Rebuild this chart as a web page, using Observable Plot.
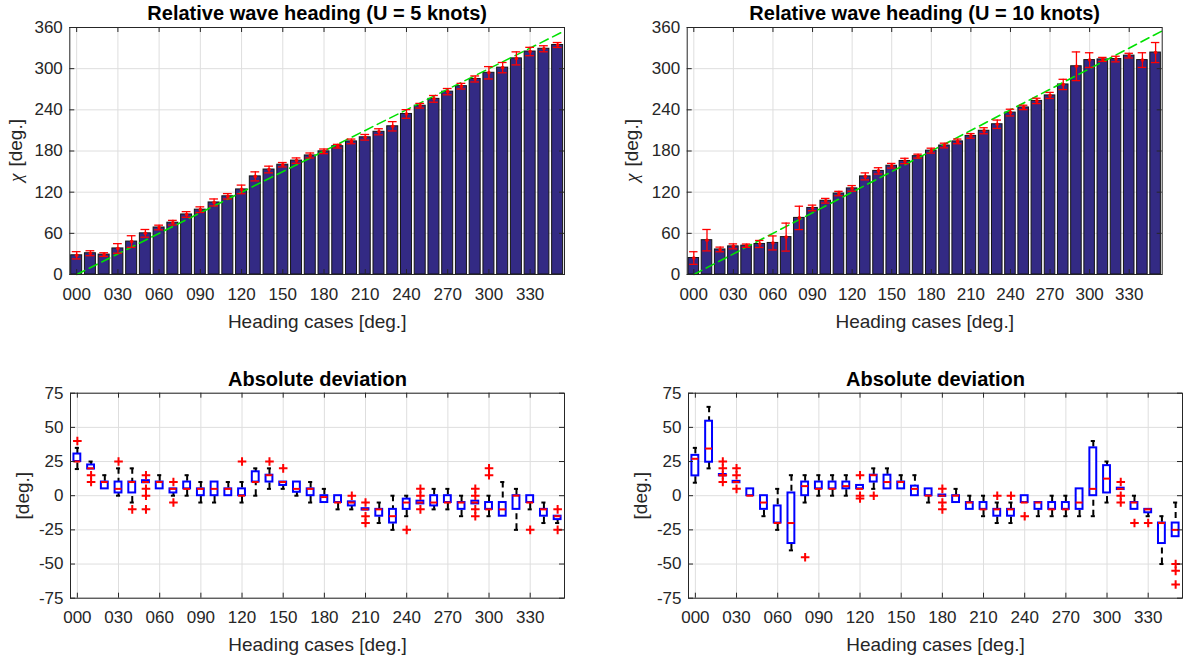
<!DOCTYPE html>
<html><head><meta charset="utf-8">
<script src="https://cdn.jsdelivr.net/npm/d3@7"></script>
<script src="https://cdn.jsdelivr.net/npm/@observablehq/plot@0.6"></script>
<style>
body{margin:0;background:#fff;}
#root{position:relative;width:1185px;height:661px;background:#fff;overflow:hidden;}
</style></head><body><div id="root"></div>
<script>
// ---------- data ----------
const headings = [0,10,20,30,40,50,60,70,80,90,100,110,120,130,140,150,160,170,180,190,200,210,220,230,240,250,260,270,280,290,300,310,320,330,340,350];
const xTicks = [0,30,60,90,120,150,180,210,240,270,300,330];
const yTicksTop = [0,60,120,180,240,300,360];
const yTicksBottom = [-75,-50,-25,0,25,50,75];
const refLineX = [0,355];
const refLineY = [0,355];

// Relative wave heading, U = 5 knots (mean and error half-width)
const u5Mean = [28,31,29,38,48,60,68.5,75.5,87.5,94.5,105,114,124,143,153,160,166,173.5,179.5,187,194,200,208,216,234,246,256,266.5,274.5,285,294,301.5,315,325,329,334.5];
const u5Err  = [5.3,3.6,2.7,7,8.5,5.6,3.4,3.4,4.1,4.1,5.1,3.9,6.3,6.6,4.9,3.2,3.9,3.6,3.4,2.7,3.4,4.1,4.4,6.8,6.3,3.4,4.9,4.6,4.1,4.4,9,7.5,9.5,6.1,4.4,3.6];
// Relative wave heading, U = 10 knots
const u10Mean = [24,50,36.5,41,42,44.5,46,54.5,82.5,97,107.5,118,125.5,143,151,158.5,165.5,172.5,180.5,188,194,202,209.5,219,236,243.5,253,261,277,303.5,312.5,313.5,314,319,312.5,323.5];
const u10Err  = [9.2,15.6,3.4,3.6,2.4,5.1,10.2,20.4,17,4.1,3.4,3.2,4.1,5.1,4.6,3.4,3.9,2.9,3.6,3.4,3.4,3.4,4.4,6.1,4.9,3.2,3.9,4.4,7.5,20.9,10.7,2.9,4.1,3.4,10.7,14.6];

// Absolute deviation box statistics, U = 5 knots
const u5Q1  = [25,19.5,5,2,2,9.5,5,2,5,0,0,0,0,10,10,7.5,2.5,0,-5,-5,-7.5,-10.5,-15,-20,-10,-6,-7.5,-5,-10,-6,-10,-15,-10,-5,-15,-17.5];
const u5Q3  = [30.5,22.5,10,10,10,11,10,5,10,5,10,5,5,17.5,15,10,10,5,0,0,-4.5,-9.5,-10,-10,-2.5,-4,0,0,-5,-4,-5,-5,0,0,-10,-15];
const u5Med = [25,20,10,5,10,10,10,5,5,5,5,5,0,10,15,10,5,5,-1,-5,-5,-10,-10,-15,-5,-5,-5,-5,-5,-5,-10,-10,0,-5,-10,-15];
const u5Lo  = [19.5,19.5,5,0,-5,9.5,5,0,0,-5,-5,0,-5,0,5,5,0,-5,-5,-10,-10,-10.5,-20,-25,-15,-6,-10,-10,-15,-6,-15,-15,-25,-10,-20,-20];
const u5Hi  = [35,25,15,20,20,11,15,5,15,10,10,10,10,20,20,10,10,10,5,0,-4.5,-9.5,-5,0,0,-4,5,5,0,-4,0,10,5,0,-5,-15];
const u5Out = [[40],[15,10],[],[25],[-10],[15,5,0,-10],[],[10,-5],[],[],[],[],[25],[],[25],[20],[],[],[],[],[0],[-5,-15,-20],[],[],[-25],[5,0,-10],[],[],[],[5,0,-10,-15],[20,15],[],[],[-25],[],[-10,-25]];

// Absolute deviation box statistics, U = 10 knots
const u10Q1  = [14.5,24.5,14.5,9.5,0,-10,-20,-35,0,5,5,5,5,10,5,5,0,0,-0.5,-5,-10,-10,-15,-15,-5,-10,-10,-10,-10,0,2,4.5,-10,-12.5,-35,-30];
const u10Q3  = [29.5,54.5,15.5,10.5,5,0,-7.5,2,10,10,10,10,7.5,15,15,10,7,5,0.5,0,-5,-5,-10,-10,0,-5,-5,-5,5,35,22,5.5,-5,-10,-20,-20];
const u10Med = [27,34.5,15,10,0,-5,-20,-20,7,5,5,7,5,15,10,10,5,0,0,0,-5,-10,-10,-10,-5,-5,-10,-10,-5,5,12.5,5,-5,-10,-20,-25];
const u10Lo  = [9.5,20,14.5,9.5,0,-15,-25,-40,-5,0,0,0,5,5,5,5,0,-5,-0.5,-5,-10,-15,-20,-20,-5,-15,-15,-15,-15,-15,-5,4.5,-10,-15,-50,-30];
const u10Hi  = [35,65,15.5,10.5,5,0,5,15,15,15,15,15,7.5,20,20,15,15,5,0.5,5,0,0,-5,-5,0,-5,0,0,5,40,25,5.5,0,-10,-15,-5];
const u10Out = [[],[],[25,20,15,10],[20,15,5],[],[],[],[],[-45],[],[],[],[15,0,-2],[0],[],[],[],[],[5,-5,-10],[],[],[],[0],[0],[-15],[],[],[],[],[],[],[10,0,-5],[-20],[-20],[],[-50,-55,-65]];

// ---------- drawing ----------
const FONT = '"Liberation Sans", Arial, Helvetica, sans-serif';
const INK = "#262626";
const root = document.getElementById("root");
const plusSymbol = {draw(ctx, size){const r = Math.sqrt(size / Math.PI); ctx.moveTo(-r,0); ctx.lineTo(r,0); ctx.moveTo(0,-r); ctx.lineTo(0,r);}};

function ylabelMarks(ylabel, dx) {
  if (ylabel.symbol) {
    return [
      Plot.text([ylabel.symbol], {text: d => d, frameAnchor: "left", dx: -dx, dy: 31, rotate: -90, textAnchor: "start", lineAnchor: "middle", fontSize: 19, fontStyle: "italic", fontFamily: '"Liberation Serif", "DejaVu Serif", serif', fill: INK}),
      Plot.text([ylabel.unit], {text: d => d, frameAnchor: "left", dx: -dx, dy: -32, rotate: -90, textAnchor: "end", lineAnchor: "middle", fontSize: 19, fill: INK})
    ];
  }
  return [Plot.text([ylabel.unit], {text: d => d, frameAnchor: "left", dx: -dx, rotate: -90, textAnchor: "middle", lineAnchor: "middle", fontSize: 19, fill: INK})];
}

function panel({left, top, width, height, fx0, fx1, fy0, fy1, yDomain, yTicks, title, ylabel, ylabelDx, marks}) {
  const frameW = fx1 - fx0, frameH = fy1 - fy0;
  const plot = Plot.plot({
    width, height,
    marginLeft: fx0 - left, marginRight: left + width - fx1,
    marginTop: fy0 - top, marginBottom: top + height - fy1,
    style: {fontFamily: FONT, fontSize: "17px", color: INK, background: "transparent", overflow: "visible"},
    x: {domain: [-5, 355], ticks: xTicks, tickSize: 0, tickPadding: 13, tickFormat: d3.format("03d"), label: null},
    y: {domain: yDomain, ticks: yTicks, tickSize: 0, tickPadding: 7, tickFormat: d => String(d), label: null},
    marks: [
      Plot.gridX(xTicks, {stroke: "#dedede", strokeOpacity: 1}),
      Plot.gridY(yTicks, {stroke: "#dedede", strokeOpacity: 1}),
      ...marks,
      Plot.tickX(xTicks, {x: d => d, insetTop: frameH - 5, stroke: INK}),
      Plot.tickX(xTicks, {x: d => d, insetBottom: frameH - 5, stroke: INK}),
      Plot.tickY(yTicks, {y: d => d, insetRight: frameW - 5, stroke: INK}),
      Plot.tickY(yTicks, {y: d => d, insetLeft: frameW - 5, stroke: INK}),
      Plot.frame({stroke: INK, strokeWidth: 1}),
      Plot.text([title], {text: d => d, frameAnchor: "top", dy: -7.5, lineAnchor: "bottom", fontWeight: "bold", fontSize: 20, fill: "black"}),
      ...ylabelMarks(ylabel, ylabelDx),
      Plot.text(["Heading cases [deg.]"], {text: d => d, frameAnchor: "bottom", dy: 47, lineAnchor: "middle", fontSize: 19, fill: INK})
    ]
  });
  plot.style.position = "absolute";
  plot.style.left = left + "px";
  plot.style.top = top + "px";
  root.appendChild(plot);
}

function barMarks(mean, err) {
  const data = headings.map((h, i) => ({h, v: mean[i], e: err[i]}));
  const ref = refLineX.map((x, i) => ({x, y: refLineY[i]}));
  return [
    Plot.rect(data, {x1: d => d.h - 4, x2: d => d.h + 4, y1: 0, y2: "v", fill: "#332a84", stroke: "#151515", strokeWidth: 1}),
    Plot.line(ref, {x: "x", y: "y", stroke: "#00e000", strokeWidth: 1.6, strokeDasharray: "9,5"}),
    Plot.ruleX(data, {x: "h", y1: d => d.v - d.e, y2: d => d.v + d.e, stroke: "red", strokeWidth: 1.3}),
    Plot.ruleY(data, {y: d => d.v - d.e, x1: d => d.h - 3.2, x2: d => d.h + 3.2, stroke: "red", strokeWidth: 1.3}),
    Plot.ruleY(data, {y: d => d.v + d.e, x1: d => d.h - 3.2, x2: d => d.h + 3.2, stroke: "red", strokeWidth: 1.3}),
    Plot.dot(data, {x: "h", y: "v", r: 1.8, fill: "red"})
  ];
}

function boxMarks(q1, q3, med, lo, hi, out) {
  const data = headings.map((h, i) => ({h, q1: q1[i], q3: q3[i], med: med[i], lo: lo[i], hi: hi[i]}));
  const outs = headings.flatMap((h, i) => out[i].map(v => ({h, v})));
  const bw = 2.5, cw = 1.5;
  return [
    Plot.ruleX(data.filter(d => d.hi > d.q3), {x: "h", y1: "hi", y2: "q3", stroke: "black", strokeWidth: 2, strokeDasharray: "6,4"}),
    Plot.ruleX(data.filter(d => d.lo < d.q1), {x: "h", y1: "lo", y2: "q1", stroke: "black", strokeWidth: 2, strokeDasharray: "6,4"}),
    Plot.ruleY(data.filter(d => d.hi > d.q3), {y: "hi", x1: d => d.h - cw, x2: d => d.h + cw, stroke: "black", strokeWidth: 2}),
    Plot.ruleY(data.filter(d => d.lo < d.q1), {y: "lo", x1: d => d.h - cw, x2: d => d.h + cw, stroke: "black", strokeWidth: 2}),
    Plot.rect(data, {x1: d => d.h - bw, x2: d => d.h + bw, y1: "q1", y2: "q3", fill: "white", stroke: "blue", strokeWidth: 2}),
    Plot.ruleY(data, {y: "med", x1: d => d.h - bw, x2: d => d.h + bw, stroke: "red", strokeWidth: 2}),
    Plot.dot(outs, {x: "h", y: "v", symbol: plusSymbol, r: 4.3, fill: "none", stroke: "red", strokeWidth: 2})
  ];
}

panel({left: 0, top: 0, width: 600, height: 335, fx0: 69.3, fx1: 564, fy0: 27, fy1: 274,
  yDomain: [0, 360], yTicks: yTicksTop, title: "Relative wave heading (U = 5 knots)", ylabel: {symbol: "χ", unit: "[deg.]"}, ylabelDx: 54,
  marks: barMarks(u5Mean, u5Err)});
panel({left: 600, top: 0, width: 585, height: 335, fx0: 686.7, fx1: 1161.7, fy0: 27, fy1: 274,
  yDomain: [0, 360], yTicks: yTicksTop, title: "Relative wave heading (U = 10 knots)", ylabel: {symbol: "χ", unit: "[deg.]"}, ylabelDx: 55,
  marks: barMarks(u10Mean, u10Err)});
panel({left: 0, top: 335, width: 600, height: 326, fx0: 70, fx1: 564, fy0: 392.7, fy1: 597.7,
  yDomain: [-75, 75], yTicks: yTicksBottom, title: "Absolute deviation", ylabel: {unit: "[deg.]"}, ylabelDx: 48,
  marks: boxMarks(u5Q1, u5Q3, u5Med, u5Lo, u5Hi, u5Out)});
panel({left: 600, top: 335, width: 585, height: 326, fx0: 688, fx1: 1182, fy0: 392.7, fy1: 597.7,
  yDomain: [-75, 75], yTicks: yTicksBottom, title: "Absolute deviation", ylabel: {unit: "[deg.]"}, ylabelDx: 48,
  marks: boxMarks(u10Q1, u10Q3, u10Med, u10Lo, u10Hi, u10Out)});
</script></body></html>
